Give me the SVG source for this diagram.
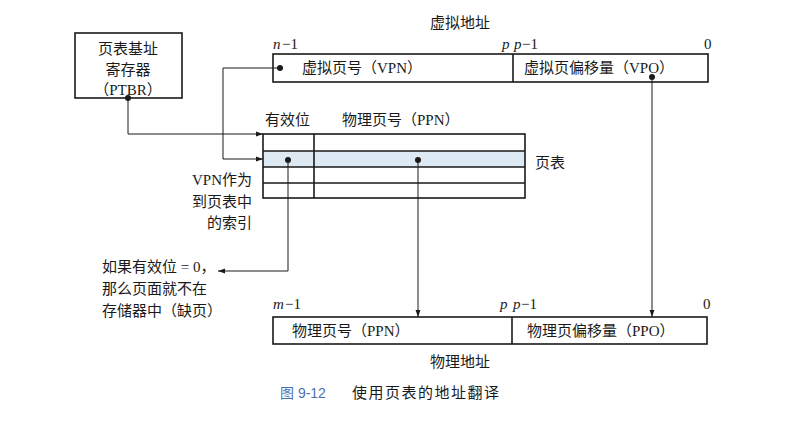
<svg xmlns="http://www.w3.org/2000/svg" width="803" height="436" viewBox="0 0 803 436">
<defs>
<style>
.t{font-family:"Liberation Serif","Noto Sans CJK SC",serif;font-size:15px;fill:#1a1a1a}
.i{font-style:italic}
.box{fill:#fff;stroke:#1a1a1a;stroke-width:1.6}
.ln{fill:none;stroke:#1a1a1a;stroke-width:1}
.dot{fill:#1a1a1a}
</style>
<marker id="ah" viewBox="0 0 10 10" refX="10" refY="5" markerWidth="7" markerHeight="7" orient="auto" markerUnits="userSpaceOnUse">
<path d="M0,1.5 L10,5 L0,8.5 Z" fill="#1a1a1a"/>
</marker>
</defs>
<rect width="803" height="436" fill="#fff"/>

<g id="ptbr">
<rect class="box" x="75" y="33" width="107" height="65"/>
<text class="t" x="128" y="54" text-anchor="middle">页表基址</text>
<text class="t" x="128" y="75" text-anchor="middle">寄存器</text>
<text class="t" x="128" y="95" text-anchor="middle">（PTBR）</text>
<circle class="dot" cx="128" cy="98" r="3"/>
</g>

<g id="virtual-address">
<text class="t" x="460" y="28" text-anchor="middle">虚拟地址</text>
<text class="t i" x="273" y="49">n</text><text class="t" x="282" y="49">−1</text>
<text class="t i" x="502" y="49">p</text>
<text class="t i" x="514" y="49">p</text><text class="t" x="522" y="49">−1</text>
<text class="t" x="704" y="49">0</text>
<rect class="box" x="273" y="54" width="435" height="28"/>
<line class="ln" x1="513" y1="54" x2="513" y2="82" style="stroke-width:1.6"/>
<text class="t" x="302" y="73">虚拟页号（VPN）</text>
<text class="t" x="524" y="73">虚拟页偏移量（VPO）</text>
<circle class="dot" cx="280" cy="68" r="3"/>
<circle class="dot" cx="652" cy="77" r="3"/>
</g>

<g id="page-table">
<text class="t" x="265" y="125">有效位</text>
<text class="t" x="342" y="125">物理页号（PPN）</text>
<rect x="263" y="151" width="262" height="16" fill="#dde9f3"/>
<rect x="263" y="134" width="262" height="64" fill="none" stroke="#1a1a1a" stroke-width="1.6"/>
<line class="ln" x1="263" y1="151" x2="525" y2="151" style="stroke-width:1.6"/>
<line class="ln" x1="263" y1="167" x2="525" y2="167" style="stroke-width:1.6"/>
<line class="ln" x1="263" y1="183" x2="525" y2="183" style="stroke-width:1.6"/>
<line class="ln" x1="314" y1="134" x2="314" y2="198" style="stroke-width:1.6"/>
<circle class="dot" cx="288" cy="160" r="3"/>
<circle class="dot" cx="418" cy="160" r="3"/>
<text class="t" x="535" y="168">页表</text>
</g>

<g id="vpn-index-label">
<text class="t" x="252" y="185" text-anchor="end">VPN作为</text>
<text class="t" x="252" y="207" text-anchor="end">到页表中</text>
<text class="t" x="252" y="228" text-anchor="end">的索引</text>
</g>

<g id="page-fault-label">
<text class="t" x="102" y="272">如果有效位 = 0，</text>
<text class="t" x="102" y="294">那么页面就不在</text>
<text class="t" x="102" y="316">存储器中（缺页）</text>
</g>

<g id="physical-address">
<text class="t i" x="273" y="309">m</text><text class="t" x="285" y="309">−1</text>
<text class="t i" x="500" y="309">p</text>
<text class="t i" x="513" y="309">p</text><text class="t" x="521" y="309">−1</text>
<text class="t" x="703" y="309">0</text>
<rect class="box" x="273" y="317" width="434" height="27"/>
<line class="ln" x1="512" y1="317" x2="512" y2="344" style="stroke-width:1.6"/>
<text class="t" x="292" y="336">物理页号（PPN）</text>
<text class="t" x="527" y="336">物理页偏移量（PPO）</text>
<text class="t" x="460" y="367" text-anchor="middle">物理地址</text>
</g>

<g id="connectors">
<polyline class="ln" points="128,98 128,134 263,134" marker-end="url(#ah)"/>
<polyline class="ln" points="280,68 223,68 223,159 263,159" marker-end="url(#ah)"/>
<polyline class="ln" points="288,160 288,271 218,271" marker-end="url(#ah)"/>
<line class="ln" x1="418" y1="160" x2="418" y2="317" marker-end="url(#ah)"/>
<line class="ln" x1="652" y1="77" x2="652" y2="317" marker-end="url(#ah)"/>
</g>

<g id="caption">
<text x="280" y="398" style="font-family:'Liberation Sans','Noto Sans CJK SC',sans-serif;font-size:14px;fill:#4a72b0">图 9-12</text>
<text class="t" x="352" y="398" style="letter-spacing:1.5px">使用页表的地址翻译</text>
</g>
</svg>
